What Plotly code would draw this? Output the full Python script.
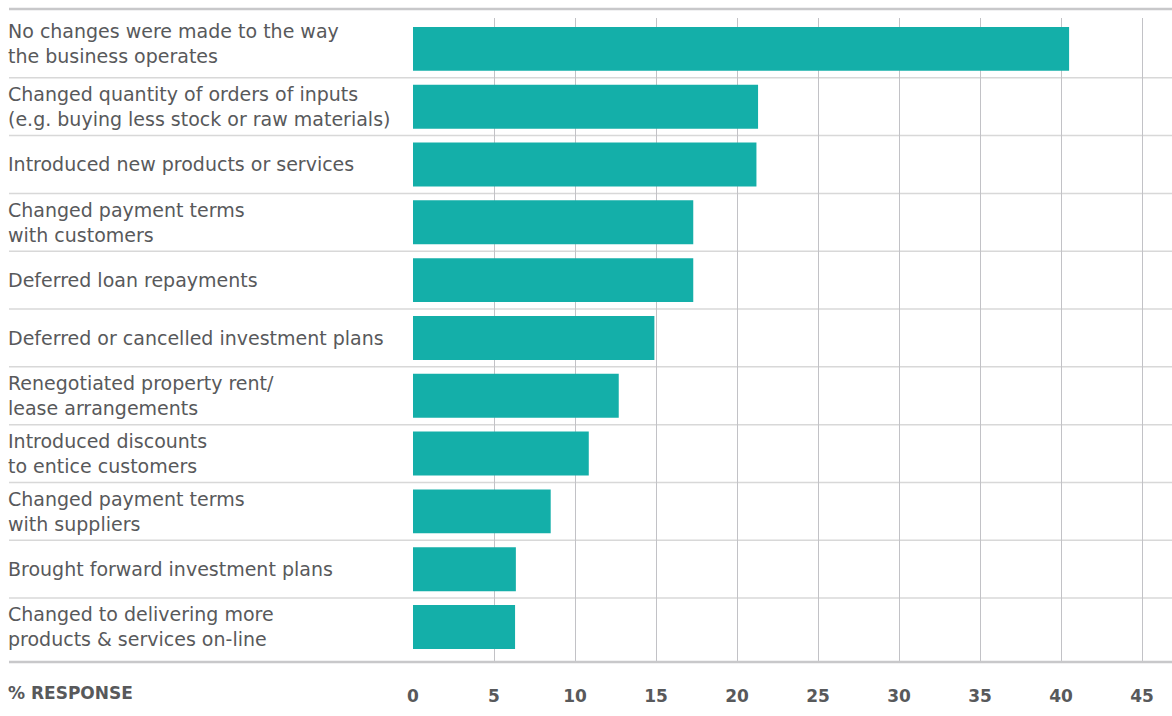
import plotly.graph_objects as go

categories = [
    "No changes were made to the way<br>the business operates",
    "Changed quantity of orders of inputs<br>(e.g. buying less stock or raw materials)",
    "Introduced new products or services",
    "Changed payment terms<br>with customers",
    "Deferred loan repayments",
    "Deferred or cancelled investment plans",
    "Renegotiated property rent/<br>lease arrangements",
    "Introduced discounts<br>to entice customers",
    "Changed payment terms<br>with suppliers",
    "Brought forward investment plans",
    "Changed to delivering more<br>products & services on-line",
]
values = [40.5, 21.3, 21.2, 17.3, 17.3, 14.9, 12.7, 10.85, 8.5, 6.35, 6.3]
tick_values = [0, 5, 10, 15, 20, 25, 30, 35, 40, 45]
tick_labels = ["0", "5", "10", "15", "20", "25", "30", "35", "40", "45"]
axis_title = "% RESPONSE"

TEAL = "#14AFA9"
TEXT = "#58595B"
FONT = "DejaVu Sans"

W, H = 1172, 716
L, R, T, B = 413, 0, 18, 54
plot_w = W - L - R
plot_h = H - T - B
left_paper = (9 - L) / plot_w
text_paper = (8 - L) / plot_w

ypos = list(range(len(categories)))

fig = go.Figure(go.Bar(
    x=values, y=ypos, orientation="h",
    marker=dict(color=TEAL, line=dict(width=0)),
    width=0.76, hoverinfo="x",
))

shapes = []
for i in range(len(categories) - 1):
    shapes.append(dict(type="line", xref="paper", yref="y", x0=left_paper, x1=1,
                       y0=i + 0.5, y1=i + 0.5, line=dict(color="#D8D8D8", width=1.5), layer="below"))
# top and bottom rules
top_y = 1 + 9 / plot_h
shapes.append(dict(type="line", xref="paper", yref="paper", x0=left_paper, x1=1,
                   y0=top_y, y1=top_y, line=dict(color="#C8C8CA", width=2.5)))
shapes.append(dict(type="line", xref="paper", yref="paper", x0=left_paper, x1=1,
                   y0=0, y1=0, line=dict(color="#C8C8CA", width=2.5)))

annotations = []
for i, c in enumerate(categories):
    annotations.append(dict(xref="paper", yref="y", x=text_paper, y=i, text=c,
                            showarrow=False, xanchor="left", yanchor="middle", align="left",
                            borderpad=0, borderwidth=0, yshift=5 if i == 0 else 0,
                            font=dict(family=FONT, size=19, color=TEXT)))
annotations.append(dict(xref="paper", yref="paper", x=text_paper, y=0, yshift=-31,
                        text="<b>" + axis_title + "</b>", showarrow=False,
                        xanchor="left", yanchor="middle", borderpad=0, borderwidth=0,
                        font=dict(family=FONT, size=17, color=TEXT)))

fig.update_layout(
    width=W, height=H,
    margin=dict(l=L, r=R, t=T, b=B, pad=0),
    paper_bgcolor="white", plot_bgcolor="white",
    showlegend=False,
    shapes=shapes,
    annotations=annotations,
    xaxis=dict(range=[0, plot_w / 16.2], tickvals=tick_values, ticktext=tick_labels,
               showgrid=True, gridcolor="#C2C2C6", gridwidth=1, zeroline=False,
               showline=False, ticks="outside", ticklen=19, tickcolor="rgba(0,0,0,0)",
               tickfont=dict(family=FONT, size=17, color=TEXT, weight="bold"), fixedrange=True),
    yaxis=dict(range=[10.606, -0.534], showticklabels=False, showgrid=False,
               zeroline=False, showline=False, fixedrange=True),
)

fig.write_html("out.html", config={"displayModeBar": False},
               post_script="document.body.style.margin='0';document.body.style.overflow='hidden';")
